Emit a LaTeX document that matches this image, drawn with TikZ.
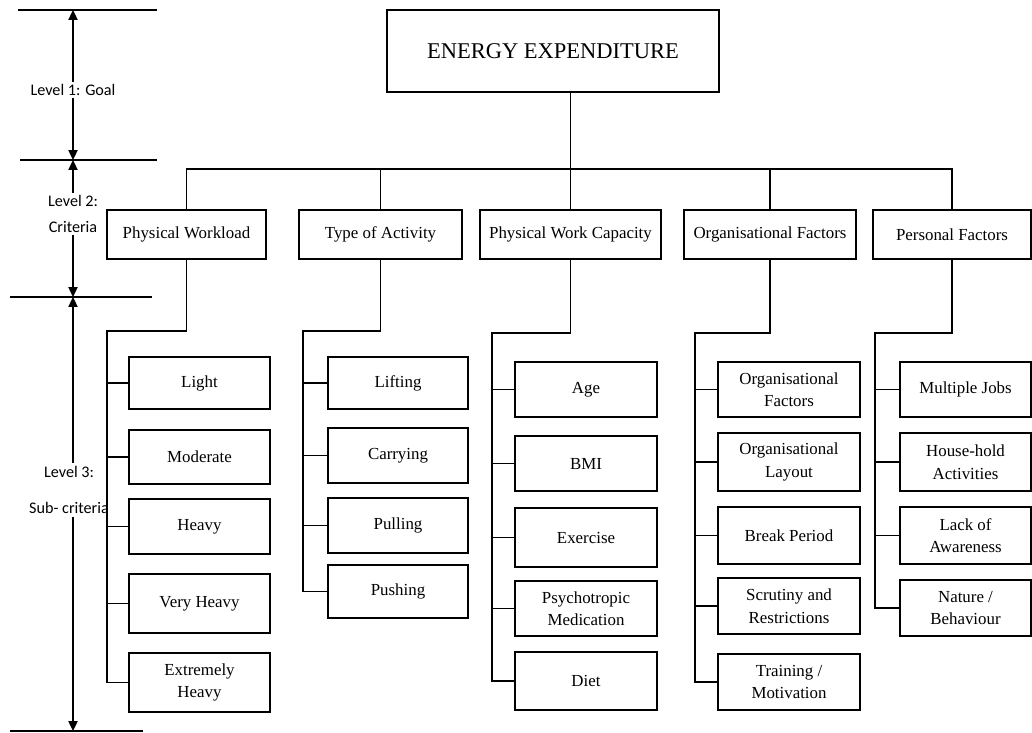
\documentclass[tikz,border=0pt]{standalone}
\usepackage{fontspec}
\setmainfont{Liberation Serif}
\newfontfamily\lvlfont{Carlito}
\usetikzlibrary{arrows.meta}

\begin{document}
\begin{tikzpicture}[
  x=0.025cm,y=-0.025cm,
  line width=0.95pt,
  font=\fontsize{12}{16}\selectfont,
  box/.style={draw,align=center,inner sep=2pt,minimum height=1.225cm,minimum width=#1},
  sub/.style={draw,align=center,inner sep=2pt,minimum width=#1},
  lvl/.style={font=\lvlfont\fontsize{11.5}{13}\selectfont,fill=white,align=center,inner sep=2pt},
  >={Triangle[width=6.5pt,length=7pt]}
]
\useasboundingbox (0,0) rectangle (1032,732);
\clip (0,0) rectangle (1032,732);
% ---- Level marks ----
\coordinate (m1) at (73,10);
\coordinate (m2) at (73,160);
\coordinate (m3) at (73,297);
\coordinate (m4) at (73,731);
\draw (18,10) -- (157,10);
\draw (20,160) -- (157,160);
\draw (10,297) -- (152,297);
\draw (10,731) -- (143,731);
\draw[<->] (m1) -- (m2);
\draw[<->] (m2) -- (m3);
\draw[<->] (m3) -- (m4);
\node[lvl] (goal) at (73,90) {Level 1: Goal};
\node[lvl] (crit) at (73,214) {Level 2:\\[5pt]Criteria};
\node[lvl] (subc) at (69,490) {Level 3:\\[13pt]Sub- criteria};
% ---- Goal ----
\node[draw,minimum width=8.3cm,minimum height=2.05cm,font=\fontsize{16}{19}\selectfont]
  (goalbox) at (553,51) {ENERGY EXPENDITURE};
% ---- Criteria ----
\node[box=3.975cm] (pw)  at (186.5,234.5) {Physical Workload};
\node[box=4.075cm] (ta)  at (380.5,234.5) {Type of Activity};
\node[box=4.525cm] (pwc) at (570.5,234.5) {Physical Work Capacity};
\node[box=4.3cm]   (of)  at (770,234.5)   {Organisational Factors};
\node[box=3.95cm]  (pf)  at (952,234.5)   {Personal Factors};
\coordinate (bar) at (570.5,169);
\draw (goalbox.south -| pwc.north) -- (pwc.north);
\draw (pw.north) |- (bar) -| (pf.north);
\draw (ta.north) -- (ta.north |- bar);
\draw (of.north) -- (of.north |- bar);
% ---- Sub-criteria: physical workload ----
\node[sub=3.525cm,minimum height=1.3cm]   (light)   at (199.5,383)   {Light};
\node[sub=3.525cm,minimum height=1.35cm]  (moder)   at (199.5,457)   {Moderate};
\node[sub=3.525cm,minimum height=1.375cm] (heavy)   at (199.5,526.5) {Heavy};
\node[sub=3.525cm,minimum height=1.475cm] (vheavy)  at (199.5,603.5) {Very Heavy};
\node[sub=3.525cm,minimum height=1.475cm] (xheavy)  at (199.5,682.5) {Extremely\\Heavy};
\coordinate (pwbus) at (107,331);
\draw (pw.south) |- (pwbus) |- (xheavy.west);
\foreach \n in {light,moder,heavy,vheavy}
  \draw (pwbus |- \n.west) -- (\n.west);
% ---- Sub-criteria: type of activity ----
\node[sub=3.5cm,minimum height=1.3cm]   (lift)  at (398,383)   {Lifting};
\node[sub=3.5cm,minimum height=1.375cm] (carry) at (398,455.5) {Carrying};
\node[sub=3.5cm,minimum height=1.375cm] (pull)  at (398,525.5) {Pulling};
\node[sub=3.5cm,minimum height=1.325cm] (push)  at (398,591.5) {Pushing};
\coordinate (tabus) at (303,331);
\draw (ta.south) |- (tabus) |- (push.west);
\foreach \n in {lift,carry,pull}
  \draw (tabus |- \n.west) -- (\n.west);
% ---- Sub-criteria: physical work capacity ----
\node[sub=3.55cm,minimum height=1.375cm] (age)   at (586,389.5) {Age};
\node[sub=3.55cm,minimum height=1.375cm] (bmi)   at (586,463.5) {BMI};
\node[sub=3.55cm,minimum height=1.475cm] (exer)  at (586,537.5) {Exercise};
\node[sub=3.55cm,minimum height=1.375cm] (psych) at (586,608.5) {Psychotropic\\Medication};
\node[sub=3.55cm,minimum height=1.45cm]  (diet)  at (586,681)   {Diet};
\coordinate (pwcbus) at (492,333);
\draw (pwc.south) |- (pwcbus) |- (diet.west);
\foreach \n in {age,bmi,exer,psych}
  \draw (pwcbus |- \n.west) -- (\n.west);
% ---- Sub-criteria: organisational factors ----
\node[sub=3.55cm,minimum height=1.375cm] (orgf)  at (789,389.5) {Organisational\\Factors};
\node[sub=3.55cm,minimum height=1.45cm]  (orgl)  at (789,462)   {Organisational\\Layout};
\node[sub=3.55cm,minimum height=1.425cm] (brk)   at (789,535.5) {Break Period};
\node[sub=3.55cm,minimum height=1.4cm]   (scrut) at (789,606)   {Scrutiny and\\Restrictions};
\node[sub=3.55cm,minimum height=1.4cm]   (train) at (789,682)   {Training /\\Motivation};
\coordinate (ofbus) at (695,333);
\draw (of.south) |- (ofbus) |- (train.west);
\foreach \n in {orgf,orgl,brk,scrut}
  \draw (ofbus |- \n.west) -- (\n.west);
% ---- Sub-criteria: personal factors ----
\node[sub=3.275cm,minimum height=1.375cm] (jobs)   at (965.5,389.5) {Multiple Jobs};
\node[sub=3.275cm,minimum height=1.45cm]  (house)  at (965.5,462)   {House-hold\\Activities};
\node[sub=3.275cm,minimum height=1.425cm] (aware)  at (965.5,535.5) {Lack of\\Awareness};
\node[sub=3.275cm,minimum height=1.4cm]   (nature) at (965.5,608)   {Nature /\\Behaviour};
\coordinate (pfbus) at (875,333);
\draw (pf.south) |- (pfbus) |- (nature.west);
\foreach \n in {jobs,house,aware}
  \draw (pfbus |- \n.west) -- (\n.west);
\end{tikzpicture}
\end{document}
